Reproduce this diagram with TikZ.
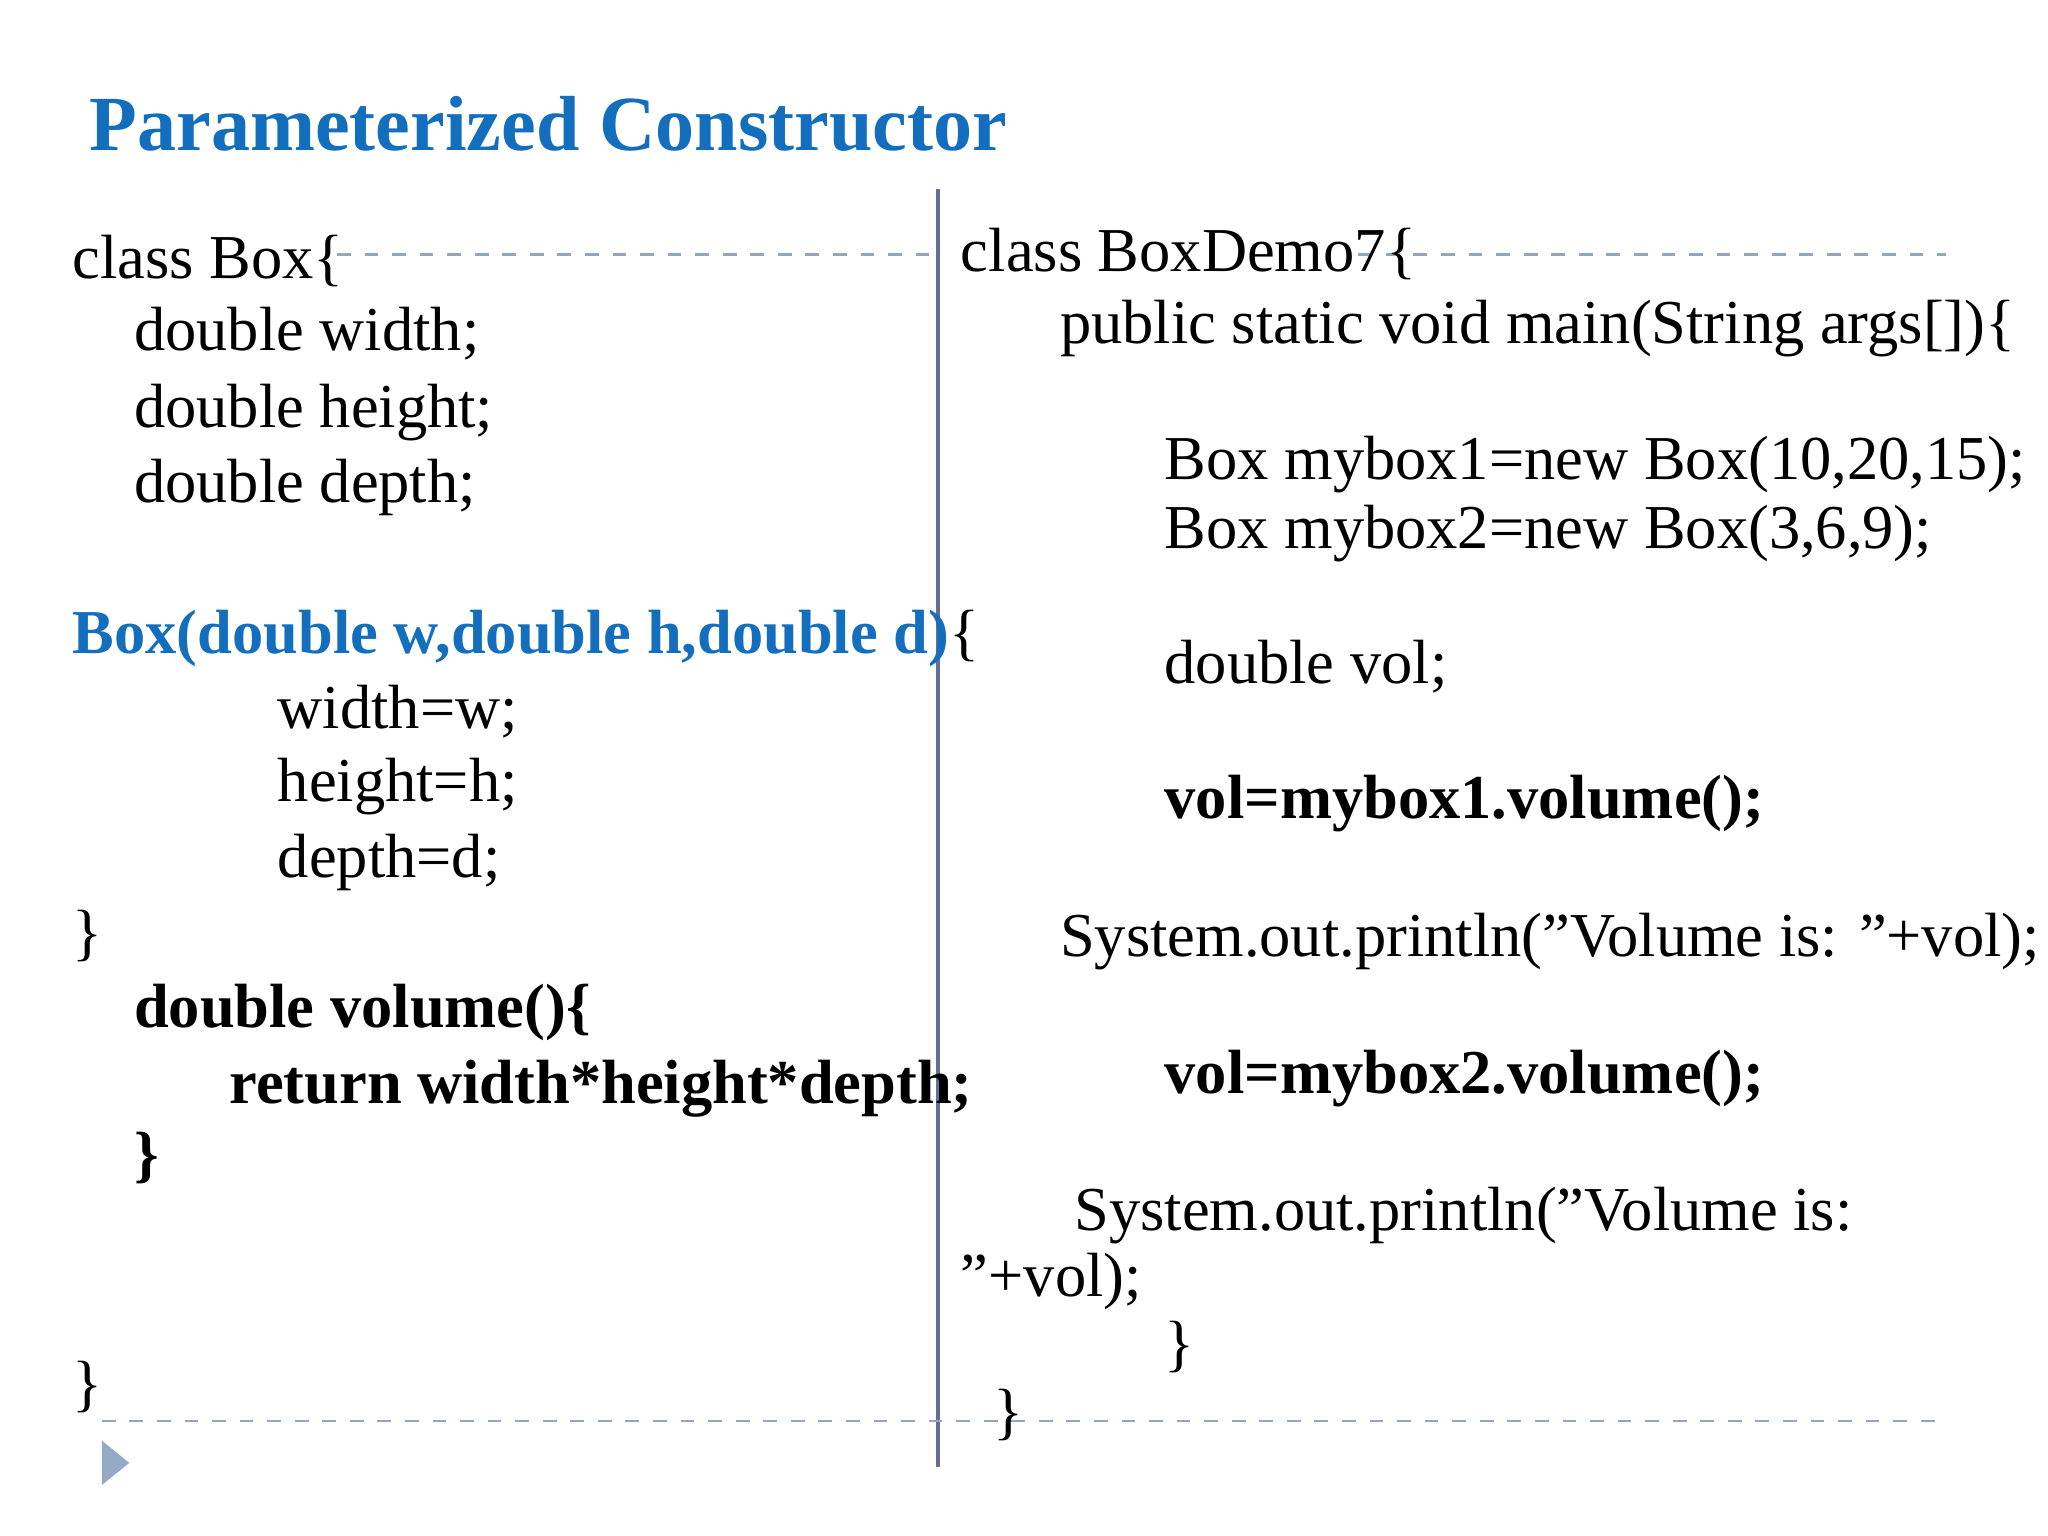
\documentclass[tikz,border=0pt]{standalone}
\usepackage{fontspec}
\setmainfont{Liberation Serif}
\definecolor{ttl}{RGB}{20,110,190}
\definecolor{vline}{RGB}{100,110,150}
\definecolor{dash}{RGB}{150,165,185}
\definecolor{tri}{RGB}{150,170,200}
\begin{document}
\begin{tikzpicture}[x=0.01cm,y=-0.01cm,
 code/.style={anchor=base west,inner sep=0,font=\fontsize{13.6}{16}\selectfont},
 bcode/.style={code,font=\fontsize{13.6}{16}\selectfont\bfseries},
 dl/.style={draw=dash,dashed,line width=0.6pt}]
\useasboundingbox (0,0) rectangle (1568,1176);
\node[anchor=base west,inner sep=0,text=ttl,font=\fontsize{17}{20}\selectfont\bfseries] (title) at (68,115) {Parameterized Constructor};
\coordinate (vt) at (718,145); \coordinate (vb) at (718,1123);
\draw[vline,line width=0.8pt] (vt) -- (vb);
\coordinate (d1a) at (258,195); \coordinate (d1b) at (720,195);
\coordinate (d2a) at (1040,195); \coordinate (d2b) at (1490,195);
\coordinate (d3a) at (78,1088); \coordinate (d3b) at (1490,1088);
\draw[dl] (d1a)--(d1b); \draw[dl] (d2a)--(d2b); \draw[dl] (d3a)--(d3b);
\fill[tri] (78,1103) -- (99,1120) -- (78,1137) -- cycle;
\node[code] (l1) at (55,213) {class Box\{};
\node[code] (l2) at (102,268) {double width;};
\node[code] (l3) at (102,327) {double height;};
\node[code] (l4) at (102,385) {double depth;};
\node[code] (l5) at (55,500) {\textcolor{ttl}{\bfseries Box(double w,double h,double d)}\{};
\node[code] (l6) at (212,558) {width=w;};
\node[code] (l7) at (212,614) {height=h;};
\node[code] (l8) at (212,672) {depth=d;};
\node[code] (l9) at (55,730) {\}};
\node[bcode] (l10) at (102,787) {double volume()\{};
\node[bcode] (l11) at (175,845) {return width*height*depth;};
\node[bcode] (l12) at (102,900) {\}};
\node[code] (l13) at (55,1075) {\}};
\node[code] (r1) at (735,208) {class BoxDemo7\{};
\node[code] (r2) at (811,263) {public static void main(String args[])\{};
\node[code] (r3) at (891,367) {Box mybox1=new Box(10,20,15);};
\node[code] (r4) at (891,420) {Box mybox2=new Box(3,6,9);};
\node[code] (r5) at (891,523) {double vol;};
\node[bcode] (r6) at (891,627) {vol=mybox1.volume();};
\node[code] (r7) at (811,732) {System.out.println("Volume is: "+vol);};
\node[bcode] (r8) at (891,837) {vol=mybox2.volume();};
\node[code] (r9) at (822,942) {System.out.println("Volume is:};
\node[code] (r10) at (735,993) {"+vol);};
\node[code] (r11) at (891,1045) {\}};
\node[code] (r12) at (760,1097) {\}};
\end{tikzpicture}
\end{document}
